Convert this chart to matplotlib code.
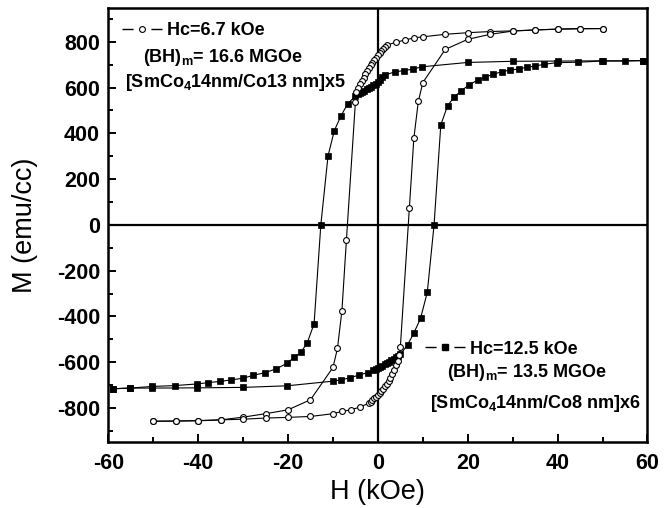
import matplotlib
matplotlib.use("Agg")
import matplotlib.pyplot as plt
from matplotlib.lines import Line2D
from matplotlib.ticker import MultipleLocator

plt.rcParams['font.family'] = ['Liberation Sans', 'DejaVu Sans']
plt.rcParams['mathtext.default'] = 'regular'
plt.rcParams['axes.unicode_minus'] = False

# ---- Sample A: [SmCo4 14nm/Co13 nm]x5 (open circles) ----
hA_down = [50, 45, 40, 35, 30, 25, 20, 15, 10, 8, 6, 4, 2,
           1.6, 1.2, 0.8, 0.4, 0, -0.4, -0.8, -1.2, -1.6, -2.0, -2.4, -2.8,
           -3.2, -3.6, -4.0, -4.4, -4.8, -5.0, -7.0, -8.0, -9.0, -10.0,
           -15, -20, -25, -30, -35, -40, -45, -50]
mA_down = [858, 858, 856, 852, 848, 845, 840, 833, 822, 817, 808, 798, 786,
           778, 769, 760, 751, 742, 731, 720, 709, 697, 685, 672, 658,
           644, 629, 614, 598, 582, 538, -65, -374, -540, -623,
           -764, -808, -825, -840, -852, -855, -857, -858]
hA_up = [-50, -45, -40, -35, -30, -25, -20, -15, -10, -8, -6, -4, -2,
         -1.6, -1.2, -0.8, -0.4, 0, 0.4, 0.8, 1.2, 1.6, 2.0, 2.4, 2.8,
         3.2, 3.6, 4.0, 4.4, 4.8, 5.0, 7.0, 8.0, 9.0, 10.0,
         15, 20, 25, 30, 35, 40, 45, 50]
mA_up = [-858, -857, -856, -852, -849, -844, -841, -837, -825, -815, -808, -796, -779,
         -772, -765, -757, -750, -742, -734, -725, -716, -706, -695, -682, -667,
         -651, -634, -614, -593, -570, -533, 72, 378, 540, 622,
         767, 811, 833, 847, 852, 855, 857, 858]

# ---- Sample B: [SmCo4 14nm/Co8 nm]x6 (filled squares) ----
hB_down = [59, 50, 40, 30, 20, 9.8, 7.8, 5.7, 3.8, 1.6,
           1.0, 0.5, 0, -0.5, -1.0, -1.5, -2.0, -2.5, -3.0, -3.5, -4.0, -4.5, -5.0,
           -6.7, -8.2, -9.7, -11.1, -12.7, -14.2, -15.7, -17.1, -18.6, -20.2,
           -22.6, -25.2, -27.7, -30.0, -32.6, -35.2, -37.7, -40.3, -45.1, -50.3,
           -55.2, -59]
mB_down = [718, 717, 716, 715, 710, 691, 681, 674, 669, 655,
           645, 635, 625, 617, 610, 604, 598, 592, 587, 581, 576, 570, 563,
           530, 477, 412, 301, 0, -432, -514, -556, -578, -604,
           -629, -646, -657, -670, -677, -684, -689, -695, -702, -706,
           -713, -716]
hB_up = [-59, -55.2, -50.3, -40.3, -30, -20.2, -10.1, -8.2, -6.2, -4.2, -2.2,
         -1.0, -0.5, 0, 0.5, 1.0, 1.5, 2.0, 2.5, 3.0, 3.5, 4.0, 4.5, 5.0,
         6.6, 8.0, 9.5, 11.0, 12.5, 14.0, 15.5, 17.0, 18.5, 20.2, 22.2, 23.9,
         25.7, 27.6, 29.4, 31.3, 33.1, 35.0, 37.0, 39.8, 44.6, 49.8, 55, 59]
mB_up = [-716, -713, -713, -712, -710, -703, -683, -677, -668, -656, -645,
         -636, -631, -626, -621, -615, -609, -603, -597, -591, -585, -579, -573, -566,
         -524, -473, -408, -294, 0, 437, 520, 560, 585, 611, 633, 645,
         659, 669, 677, 681, 689, 694, 702, 709, 711, 716, 716, 718]

labelA = "Hc=6.7 kOe"
labelB = "Hc=12.5 kOe"
bhA = "(BH)$_m$= 16.6 MGOe"
bhB = "(BH)$_m$= 13.5 MGOe"
stackA = "[SmCo$_4$14nm/Co13 nm]x5"
stackB = "[SmCo$_4$14nm/Co8 nm]x6"
xticks = [-60, -40, -20, 0, 20, 40, 60]
yticks = [-800, -600, -400, -200, 0, 200, 400, 600, 800]

fig = plt.figure(figsize=(6.68, 5.08), dpi=100)
ax = fig.add_axes([0.1621, 0.1293, 0.8072, 0.8559])

ax.axhline(0, color='black', lw=1.6, zorder=1)
ax.axvline(0, color='black', lw=1.6, zorder=1)

circ = dict(color='black', lw=0.8, marker='o', ms=4.2, mfc='white', mec='black', mew=0.8)
sq = dict(color='black', lw=0.8, marker='s', ms=4.2, mfc='black', mec='black', mew=0.5)
ax.plot(hB_down, mB_down, zorder=2, **sq)
ax.plot(hB_up, mB_up, zorder=2, **sq)
ax.plot(hA_down, mA_down, zorder=3, **circ)
ax.plot(hA_up, mA_up, zorder=3, **circ)

ax.set_xlim(-60, 60)
ax.set_ylim(-950, 950)
ax.set_xticks(xticks)
ax.set_yticks(yticks)
ax.xaxis.set_minor_locator(MultipleLocator(10))
ax.yaxis.set_minor_locator(MultipleLocator(100))
ax.tick_params(which='both', direction='in', top=False, right=False, width=1.4)
ax.tick_params(which='major', length=6, pad=6)
ax.tick_params(which='minor', length=3.5)
ax.tick_params(axis='x', which='major', pad=8)
for lab in ax.get_xticklabels() + ax.get_yticklabels():
    lab.set_fontsize(15.5)
    lab.set_fontweight('bold')
for s in ax.spines.values():
    s.set_linewidth(1.8)

ax.set_xlabel("H (kOe)", fontsize=19.5)
ax.set_ylabel("M (emu/cc)", fontsize=19.5)
ax.xaxis.set_label_coords(0.5, -0.085)
ax.yaxis.set_label_coords(-0.13, 0.5)

fs = 13
dash = (0, (8.0, 12.8))
hA = Line2D([], [], color='black', lw=1.0, ls=dash, marker='o', ms=4.2, mfc='white', mec='black', mew=0.8)
hB = Line2D([], [], color='black', lw=1.0, ls=dash, marker='s', ms=4.2, mfc='black', mec='black')
legA = ax.legend([hA], [labelA], loc='center left', bbox_to_anchor=(0.0254, 0.946),
                 frameon=False, borderpad=0, borderaxespad=0, handlelength=2.2,
                 handletextpad=0.3, numpoints=1, prop={'size': fs, 'weight': 'bold'})
ax.add_artist(legA)
ax.legend([hB], [labelB], loc='center left', bbox_to_anchor=(0.587, 0.2146),
          frameon=False, borderpad=0, borderaxespad=0, handlelength=2.2,
          handletextpad=0.3, numpoints=1, prop={'size': fs, 'weight': 'bold'})

tk = dict(transform=ax.transAxes, fontsize=fs, fontweight='bold', ha='left', va='baseline')
ax.text(0.0644, 0.8747, bhA, **tk)
ax.text(0.0312, 0.8172, stackA, **tk)
ax.text(0.6276, 0.1502, bhB, **tk)
ax.text(0.5963, 0.0789, stackB, **tk)

fig.savefig("out.png", dpi=100)
